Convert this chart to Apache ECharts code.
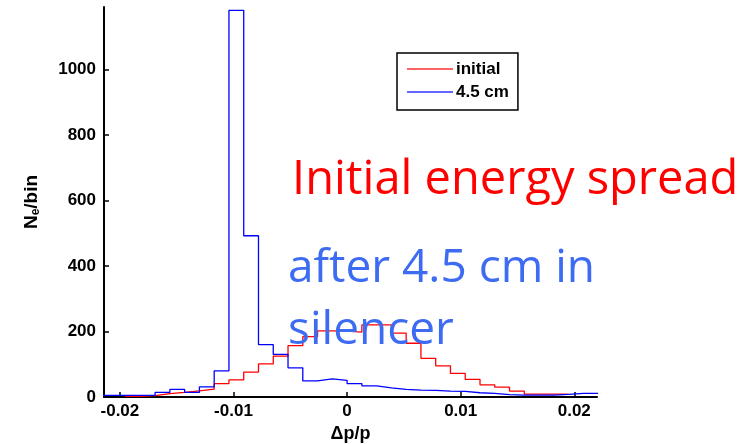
<!DOCTYPE html>
<html>
<head>
<meta charset="utf-8">
<script src="https://cdn.jsdelivr.net/npm/echarts@6/dist/echarts.min.js"></script>
<style>
  html, body { margin: 0; padding: 0; background: #fff; }
  #chart { width: 744px; height: 444px; }
</style>
</head>
<body>
<div id="chart"></div>
<script>
// Histogram of relative momentum deviation, before and after 4.5 cm of silencer.
// Bins are 0.0013 wide; bin index k covers [k*binWidth, (k+1)*binWidth].
const binWidth = 0.0013;
const firstBin = -17;

// counts per bin, bins -17 ... 16 (null = no entries drawn)
const initialCounts = [
  null, null, 2, 4, 10, 14, 19, 24, 41, 52, 76, 101, 125, 157, 184, 202, 201,
  198, 220, 220, 195, 164, 118, 95, 72, 54, 37, 30, 18, 9, 9, 9, null, null
];
const afterCounts = [
  5, 5, 5, 5, 14, 23, 14, 31, 80, 1180, 492, 160, 130, 89, 49, 55, 51,
  41, 34, 28, 23, 21, 20, 18, 17, 13, 11, 7, 6, 6, 6, 8, 11, 11
];

const seriesNames = ['initial', '4.5 cm'];
const xTicks = [-0.02, -0.01, 0, 0.01, 0.02];
const yTicks = [0, 200, 400, 600, 800, 1000];

// turn per-bin counts into stair points at the bin edges
function stairs(counts) {
  const pts = [];
  let last = null, lastIdx = null;
  counts.forEach((v, i) => {
    if (v === null) return;
    const edge = +((firstBin + i) * binWidth).toFixed(6);
    pts.push([edge, v]);
    last = v; lastIdx = i;
  });
  if (lastIdx !== null) {
    pts.push([+((firstBin + lastIdx + 1) * binWidth).toFixed(6), last]);
  }
  return pts;
}

const chart = echarts.init(document.getElementById('chart'), null, { renderer: 'canvas' });

const sans = 'Liberation Sans, Arial, sans-serif';
const tickFont = { fontFamily: sans, fontWeight: 'bold', fontSize: 17, color: '#000' };

chart.setOption({
  animation: false,
  backgroundColor: '#fff',
  grid: { left: 104, right: 147, top: 7, bottom: 47, outerBoundsMode: 'none', containLabel: false },
  legend: {
    orient: 'vertical',
    left: 397,
    top: 53,
    data: seriesNames,
    icon: 'rect',
    borderColor: '#000',
    borderWidth: 1.5,
    padding: [6, 9, 8, 10],
    itemGap: 3,
    itemWidth: 46,
    itemHeight: 1.5,
    textStyle: { fontFamily: sans, fontWeight: 'bold', fontSize: 17, lineHeight: 20, color: '#000', padding: [0, 0, 0, -2] }
  },
  xAxis: {
    type: 'value',
    min: -0.0214,
    max: 0.022,
    name: 'Δp/p',
    nameLocation: 'middle',
    nameGap: 26,
    nameTextStyle: { fontFamily: sans, fontWeight: 'bold', fontSize: 18, color: '#000' },
    axisLine: { show: true, onZero: false, lineStyle: { color: '#000', width: 2 } },
    axisTick: { show: true, inside: true, length: 5, customValues: xTicks, lineStyle: { color: '#000', width: 1.5 } },
    axisLabel: { customValues: xTicks, margin: 6, ...tickFont, formatter: v => String(v) },
    splitLine: { show: false }
  },
  yAxis: {
    type: 'value',
    min: 0,
    max: 1190,
    name: 'N{sub|e}/bin',
    nameLocation: 'middle',
    nameGap: 62,
    nameTextStyle: {
      fontFamily: sans, fontWeight: 'bold', fontSize: 19, color: '#000',
      rich: { sub: { fontFamily: sans, fontWeight: 'bold', fontSize: 12, color: '#000', verticalAlign: 'bottom', padding: [8, 0, 0, 0] } }
    },
    axisLine: { show: true, onZero: false, lineStyle: { color: '#000', width: 2 } },
    axisTick: { show: true, inside: true, length: 5, customValues: yTicks, lineStyle: { color: '#000', width: 1.5 } },
    axisLabel: { customValues: yTicks, margin: 8, ...tickFont, formatter: v => String(v) },
    splitLine: { show: false }
  },
  series: [
    {
      name: seriesNames[0],
      type: 'line',
      step: 'end',
      symbol: 'none',
      data: stairs(initialCounts),
      lineStyle: { color: '#ff0000', width: 1.3 },
      itemStyle: { color: '#ff3030' },
      z: 2
    },
    {
      name: seriesNames[1],
      type: 'line',
      step: 'end',
      symbol: 'none',
      data: stairs(afterCounts),
      lineStyle: { color: '#0000ff', width: 1.3 },
      itemStyle: { color: '#3030ff' },
      z: 3
    }
  ],
  graphic: [
    {
      type: 'text', left: 292, top: 157, z: 10,
      style: { text: 'Initial energy spread', font: '47px "Open Sans", sans-serif', fill: '#ff0000' }
    },
    {
      type: 'text', left: 288, top: 238, z: 10,
      style: { text: 'after 4.5 cm in\nsilencer', font: '46px "Open Sans", sans-serif', lineHeight: 62, fill: '#3d6cf2' }
    }
  ]
});
</script>
</body>
</html>
